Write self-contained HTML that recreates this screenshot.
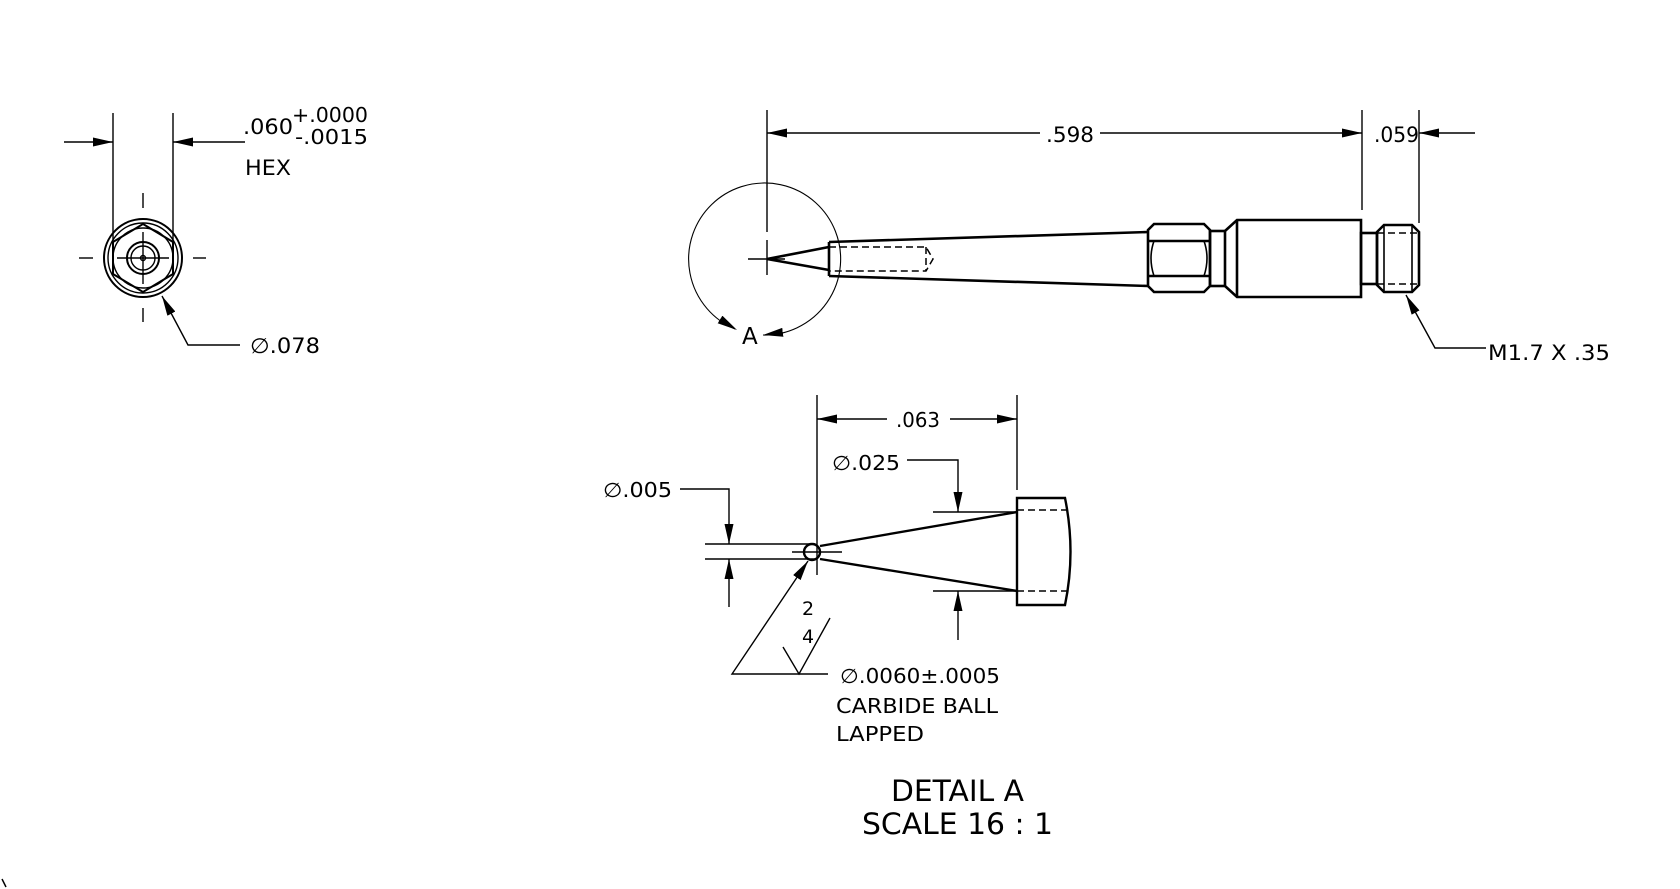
<!DOCTYPE html>
<html><head><meta charset="utf-8"><style>
html,body{margin:0;padding:0;background:#fff;}
svg{display:block;}
text{font-family:"DejaVu Sans","Liberation Sans",sans-serif;fill:#000;}
</style></head><body>
<svg width="1680" height="889" viewBox="0 0 1680 889" xmlns="http://www.w3.org/2000/svg">
<defs>
<marker id="ar" viewBox="0 0 20 9" refX="20" refY="4.5" markerWidth="20" markerHeight="9" markerUnits="userSpaceOnUse" orient="auto">
<path d="M0,0 L20,4.5 L0,9 Z" fill="#000"/>
</marker>
</defs>
<rect width="1680" height="889" fill="#fff"/>
<g stroke="#000" fill="none" stroke-width="1.4">
<!-- ===== End view (top-left) ===== -->
<line x1="113" y1="113" x2="113" y2="245"/>
<line x1="173" y1="113" x2="173" y2="245"/>
<line x1="64" y1="142" x2="113" y2="142" marker-end="url(#ar)"/>
<line x1="245" y1="142" x2="173" y2="142" marker-end="url(#ar)"/>
<circle cx="143" cy="258" r="39" stroke-width="2"/>
<circle cx="143" cy="258" r="35"/>
<polygon points="143,224 173,242 173,274 143,292 113,274 113,242" stroke-width="2"/>
<circle cx="143" cy="258" r="30"/>
<circle cx="143" cy="258" r="16" stroke-width="2"/>
<circle cx="143" cy="258" r="12"/>
<circle cx="143" cy="258" r="2.5"/>
<line x1="117" y1="258" x2="169" y2="258"/>
<line x1="143" y1="232" x2="143" y2="284"/>
<line x1="143" y1="193" x2="143" y2="208"/>
<line x1="143" y1="308" x2="143" y2="322"/>
<line x1="79" y1="258" x2="93" y2="258"/>
<line x1="193" y1="258" x2="206" y2="258"/>
<polyline points="240,345 188,345 162,296" marker-end="url(#ar)"/>

<!-- ===== Side view (top-right) ===== -->
<line x1="767" y1="110" x2="767" y2="232"/>
<line x1="767" y1="240" x2="767" y2="275"/>
<line x1="748" y1="259" x2="785" y2="259"/>
<line x1="1362" y1="110" x2="1362" y2="210"/>
<line x1="1419" y1="110" x2="1419" y2="223"/>
<line x1="1040" y1="133" x2="767" y2="133" marker-end="url(#ar)"/>
<line x1="1100" y1="133" x2="1362" y2="133" marker-end="url(#ar)"/>
<line x1="1475" y1="133" x2="1419" y2="133" marker-end="url(#ar)"/>
<path d="M763,335 A76,76 0 1 0 735,329" stroke-width="1.1"/>
<line x1="800" y1="330" x2="763" y2="335" stroke="none" marker-end="url(#ar)"/>
<line x1="716" y1="317" x2="737" y2="330" stroke="none" marker-end="url(#ar)"/>
<g stroke-width="2.6">
<polyline points="829,247 767,259 829,270"/>
<line x1="829" y1="242" x2="829" y2="276"/>
<line x1="829" y1="242" x2="1148" y2="232"/>
<line x1="829" y1="276" x2="1148" y2="286"/>
<path d="M1148,232 L1148,230 L1154,224 L1204,224 L1210,230 L1210,286 L1204,292 L1154,292 L1148,286 Z"/>
<line x1="1148" y1="241" x2="1210" y2="241"/>
<line x1="1148" y1="276" x2="1210" y2="276"/>
<path d="M1154,241 Q1148,258 1154,276 M1204,241 Q1210,258 1204,276" stroke-width="1.6"/>
<rect x="1210" y="231" width="15" height="55"/>
<path d="M1225,231 L1237,220 L1361,220 L1361,297 L1237,297 L1225,286"/>
<line x1="1237" y1="220" x2="1237" y2="297"/>
<rect x="1361" y="233" width="16" height="51"/>
<path d="M1377,232 L1384,225 L1412,225 L1419,232 L1419,285 L1412,292 L1384,292 L1377,285 Z"/>
<line x1="1384" y1="225" x2="1384" y2="292" stroke-width="1.6"/>
<line x1="1412" y1="225" x2="1412" y2="292" stroke-width="1.6"/>
</g>
<g stroke-dasharray="7,4" stroke-width="1.5">
<polyline points="829,247 926,247 933,259 926,271 829,271"/>
<line x1="926" y1="247" x2="926" y2="271"/>
<line x1="1377" y1="233" x2="1419" y2="233"/>
<line x1="1377" y1="284" x2="1419" y2="284"/>
</g>
<polyline points="1486,348 1435,348 1406,295" marker-end="url(#ar)"/>

<!-- ===== Detail A ===== -->
<line x1="817" y1="395" x2="817" y2="575"/>
<line x1="1017" y1="395" x2="1017" y2="490"/>
<line x1="887" y1="419" x2="817" y2="419" marker-end="url(#ar)"/>
<line x1="950" y1="419" x2="1017" y2="419" marker-end="url(#ar)"/>
<polyline points="907,460 958,460 958,512" marker-end="url(#ar)"/>
<line x1="933" y1="512" x2="1017" y2="512"/>
<line x1="933" y1="591" x2="1017" y2="591"/>
<line x1="958" y1="640" x2="958" y2="591" marker-end="url(#ar)"/>
<g stroke-width="2.4">
<line x1="820" y1="546" x2="1017" y2="512"/>
<line x1="820" y1="559" x2="1017" y2="591"/>
<path d="M1017,498 L1065,498 Q1076,552 1065,605 L1017,605 Z"/>
<circle cx="812" cy="552" r="8"/>
</g>
<g stroke-dasharray="7,4" stroke-width="1.4">
<line x1="1017" y1="510" x2="1068" y2="510"/>
<line x1="1017" y1="591" x2="1068" y2="591"/>
</g>
<line x1="792" y1="552" x2="842" y2="552"/>
<polyline points="680,489 729,489 729,544" marker-end="url(#ar)"/>
<line x1="729" y1="607" x2="729" y2="559" marker-end="url(#ar)"/>
<line x1="705" y1="544" x2="815" y2="544"/>
<line x1="705" y1="559" x2="815" y2="559"/>
<polyline points="828,674 732,674 808,561" marker-end="url(#ar)"/>
<polyline points="783,647 799,674 830,618"/>
<line x1="2" y1="879" x2="6" y2="887" stroke-width="1.5"/>
</g>

<text x="243" y="134" font-size="21" textLength="50" lengthAdjust="spacingAndGlyphs">.060</text>
<text x="292" y="122" font-size="20" textLength="76" lengthAdjust="spacingAndGlyphs">+.0000</text>
<text x="295" y="144" font-size="20" textLength="73" lengthAdjust="spacingAndGlyphs">-.0015</text>
<text x="245" y="175" font-size="21" textLength="46" lengthAdjust="spacingAndGlyphs">HEX</text>
<text x="250" y="353" font-size="21" textLength="70" lengthAdjust="spacingAndGlyphs">∅.078</text>
<text x="1046" y="142" font-size="21" textLength="48" lengthAdjust="spacingAndGlyphs">.598</text>
<text x="1374" y="142" font-size="21" textLength="45" lengthAdjust="spacingAndGlyphs">.059</text>
<text x="1488" y="360" font-size="21" textLength="122" lengthAdjust="spacingAndGlyphs">M1.7 X .35</text>
<text x="742" y="344" font-size="23">A</text>
<text x="896" y="427" font-size="20" textLength="44" lengthAdjust="spacingAndGlyphs">.063</text>
<text x="832" y="470" font-size="20" textLength="68" lengthAdjust="spacingAndGlyphs">∅.025</text>
<text x="603" y="497" font-size="20" textLength="69" lengthAdjust="spacingAndGlyphs">∅.005</text>
<text x="802" y="615" font-size="19">2</text>
<text x="802" y="643" font-size="19">4</text>
<text x="840" y="683" font-size="20" textLength="160" lengthAdjust="spacingAndGlyphs">∅.0060±.0005</text>
<text x="836" y="713" font-size="20" textLength="162" lengthAdjust="spacingAndGlyphs">CARBIDE BALL</text>
<text x="836" y="741" font-size="20" textLength="88" lengthAdjust="spacingAndGlyphs">LAPPED</text>
<text x="891" y="801" font-size="29" textLength="133" lengthAdjust="spacingAndGlyphs">DETAIL A</text>
<text x="862" y="834" font-size="29" textLength="191" lengthAdjust="spacingAndGlyphs">SCALE 16 : 1</text>
</svg>
</body></html>
